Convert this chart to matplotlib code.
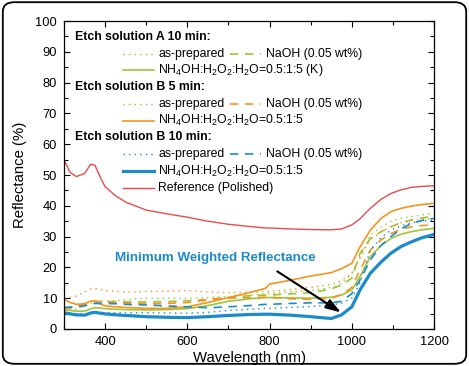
import matplotlib
matplotlib.use("Agg")
import matplotlib.pyplot as plt
from matplotlib.lines import Line2D
from matplotlib.patches import FancyBboxPatch
from matplotlib.ticker import MultipleLocator

plt.rcParams["font.family"] = ["Liberation Sans", "DejaVu Sans"]
plt.rcParams["mathtext.fontset"] = "custom"
plt.rcParams["mathtext.rm"] = "Liberation Sans"

BLUE = "#1b8bcb"
ORANGE = "#f7941d"
GREEN = "#9cc53b"
RED = "#ea4a4e"

# wavelength grid (nm)
wl = [300, 315, 330, 350, 365, 375, 390, 400, 425, 450, 500, 550, 600, 650, 700, 750,
      790, 800, 850, 900, 950, 975, 1000, 1020, 1045, 1070, 1095, 1120, 1145, 1170, 1200]

# Etch solution A 10 min
a10_asprep = [6.0, 6.2, 6.5, 7.5, 8.3, 8.7, 8.9, 9.0, 9.2, 9.5, 10.0, 10.0, 10.0, 10.2, 10.5, 11.0,
              11.4, 11.5, 12.0, 12.5, 13.5, 14.8, 18.0, 23.0, 30.5, 33.0, 35.0, 36.0, 36.5, 37.0, 37.6]
a10_naoh = [6.7, 7.0, 7.5, 8.0, 8.7, 8.9, 8.9, 8.9, 8.9, 8.8, 8.8, 8.9, 9.2, 9.6, 10.3, 10.8,
            11.0, 11.0, 11.4, 11.8, 13.0, 14.3, 16.5, 24.6, 29.4, 31.5, 33.2, 34.5, 35.4, 36.0, 36.7]
a10_nh4oh = [6.2, 6.0, 5.8, 5.8, 6.6, 6.9, 6.8, 6.6, 6.4, 6.3, 6.2, 6.3, 6.6, 7.6, 9.0, 9.8,
             10.2, 10.2, 10.1, 10.0, 10.3, 11.0, 12.7, 17.0, 23.5, 27.0, 29.4, 30.8, 31.6, 32.2, 32.7]

# Etch solution B 5 min
b5_asprep = [10.0, 10.3, 10.7, 12.0, 13.0, 13.2, 12.8, 12.5, 12.2, 12.0, 12.2, 12.3, 12.5, 12.0, 11.8, 12.0,
             12.1, 12.2, 12.8, 13.5, 14.5, 15.7, 18.0, 23.5, 28.9, 31.5, 33.2, 34.5, 35.2, 35.6, 35.9]
b5_naoh = [6.5, 6.8, 7.2, 8.0, 8.8, 9.0, 8.9, 8.8, 8.6, 8.5, 8.2, 8.3, 8.6, 9.4, 10.0, 10.2,
           10.3, 10.3, 9.8, 9.6, 10.0, 11.2, 13.5, 19.2, 25.6, 28.8, 31.0, 32.4, 33.2, 33.6, 33.8]
b5_nh4oh = [9.6, 8.6, 8.0, 8.2, 9.1, 9.1, 8.0, 7.5, 7.2, 7.0, 6.7, 6.7, 7.2, 8.6, 10.2, 11.8,
            13.2, 14.6, 15.8, 17.2, 18.3, 19.6, 21.3, 26.7, 32.1, 35.8, 38.1, 39.2, 39.9, 40.4, 40.8]

# Etch solution B 10 min
b10_asprep = [5.5, 5.2, 5.0, 4.8, 5.1, 5.2, 5.3, 5.3, 5.3, 5.3, 5.3, 5.2, 5.1, 5.4, 6.0, 6.4,
              6.7, 6.7, 7.0, 7.3, 7.8, 8.4, 10.0, 15.0, 25.6, 29.5, 32.1, 33.5, 34.5, 35.0, 35.4]
b10_naoh = [7.0, 7.1, 7.2, 7.5, 8.1, 8.3, 8.3, 8.3, 8.2, 8.0, 7.8, 7.5, 7.2, 6.9, 7.2, 7.6,
            8.0, 8.0, 8.3, 8.5, 8.5, 9.0, 11.5, 15.9, 22.4, 27.0, 30.0, 32.5, 34.3, 35.2, 35.9]
b10_nh4oh = [5.3, 4.9, 4.6, 4.5, 5.2, 5.4, 5.1, 4.9, 4.6, 4.4, 4.0, 3.8, 3.7, 4.0, 4.4, 4.7,
             4.8, 4.8, 4.5, 4.0, 3.4, 4.6, 7.2, 12.7, 18.1, 21.6, 24.6, 26.8, 28.3, 29.6, 30.7]

# Reference (polished)
ref_polished = [54.9, 50.8, 49.5, 50.5, 53.5, 53.2, 48.8, 46.2, 43.3, 41.2, 38.6, 37.4, 36.3, 35.0, 34.0, 33.3,
                32.8, 32.8, 32.5, 32.3, 32.2, 32.5, 33.8, 35.8, 39.2, 42.0, 44.0, 45.2, 46.0, 46.3, 46.5]

DOT = (0, (1, 3))
DASH = (0, (5, 4))

series = [
    ("Etch solution A 10 min:", [
        (a10_asprep, GREEN, DOT, 1.0, "as-prepared"),
        (a10_naoh, GREEN, DASH, 1.2, "NaOH (0.05 wt%)"),
        (a10_nh4oh, GREEN, "-", 1.2, r"NH$_4$OH:H$_2$O$_2$:H$_2$O=0.5:1:5 (K)"),
    ]),
    ("Etch solution B 5 min:", [
        (b5_asprep, ORANGE, DOT, 1.0, "as-prepared"),
        (b5_naoh, ORANGE, DASH, 1.2, "NaOH (0.05 wt%)"),
        (b5_nh4oh, ORANGE, "-", 1.2, r"NH$_4$OH:H$_2$O$_2$:H$_2$O=0.5:1:5"),
    ]),
    ("Etch solution B 10 min:", [
        (b10_asprep, BLUE, DOT, 1.0, "as-prepared"),
        (b10_naoh, BLUE, DASH, 1.2, "NaOH (0.05 wt%)"),
        (b10_nh4oh, BLUE, "-", 2.3, r"NH$_4$OH:H$_2$O$_2$:H$_2$O=0.5:1:5"),
    ]),
]

fig = plt.figure(figsize=(4.69, 3.66), dpi=100)
ax = fig.add_axes([0.1365, 0.1011, 0.789, 0.8415])

ax.plot(wl, ref_polished, color=RED, lw=1.0)
for header, rows in series:
    for values, color, ls, lw, label in rows:
        ax.plot(wl, values, color=color, ls=ls, lw=lw)

ax.set_xlim(300, 1200)
ax.set_ylim(0, 100)
ax.xaxis.set_major_locator(MultipleLocator(200))
ax.xaxis.set_minor_locator(MultipleLocator(100))
ax.yaxis.set_major_locator(MultipleLocator(10))
ax.yaxis.set_minor_locator(MultipleLocator(5))
ax.tick_params(which="both", direction="in", top=True, right=True,
               labelsize=9.3, width=0.8)
ax.tick_params(which="major", length=4, pad=5)
ax.tick_params(which="minor", length=3)
for spine in ax.spines.values():
    spine.set_linewidth(0.9)
ax.set_xticks([400, 600, 800, 1000, 1200])
ax.set_xlabel("Wavelength (nm)", fontsize=10.7, labelpad=2)
ax.set_ylabel("Reflectance (%)", fontsize=10.7, labelpad=6)

# hand-made legend, in axes fraction
y_row = 0.949
step = 0.0545
for header, rows in series:
    ax.text(0.03, y_row, header, transform=ax.transAxes, fontsize=8.8,
            fontweight="bold", va="center", ha="left")
    y_row -= step
    for i, (values, color, ls, lw, label) in enumerate(rows):
        if i == 1:
            x0, y = 0.449, y_row + step
        else:
            x0, y = 0.159, y_row
        ax.add_line(Line2D([x0, x0 + 0.084], [y, y], transform=ax.transAxes,
                           color=color, ls=ls, lw=lw))
        ax.text(x0 + 0.096, y, label, transform=ax.transAxes, fontsize=8.8,
                va="center", ha="left")
        if i != 1:
            y_row -= step
ax.add_line(Line2D([0.159, 0.243], [y_row, y_row], transform=ax.transAxes,
                   color=RED, lw=1.0))
ax.text(0.255, y_row, "Reference (Polished)", transform=ax.transAxes,
        fontsize=8.8, va="center", ha="left")

ax.text(667, 23, "Minimum Weighted Reflectance", color=BLUE, fontsize=9.6,
        fontweight="bold", ha="center", va="center")
ax.annotate("", xy=(979, 4.9), xytext=(813, 19.2),
            arrowprops=dict(arrowstyle="-|>,head_length=0.9,head_width=0.3",
                            color="black", lw=1.5))

fig.patches.append(FancyBboxPatch((0.006, 0.006), 0.988, 0.988,
                                  boxstyle="round,pad=0,rounding_size=0.025",
                                  transform=fig.transFigure, fill=False,
                                  edgecolor="black", lw=1.3))

fig.savefig("out.png", dpi=100)
